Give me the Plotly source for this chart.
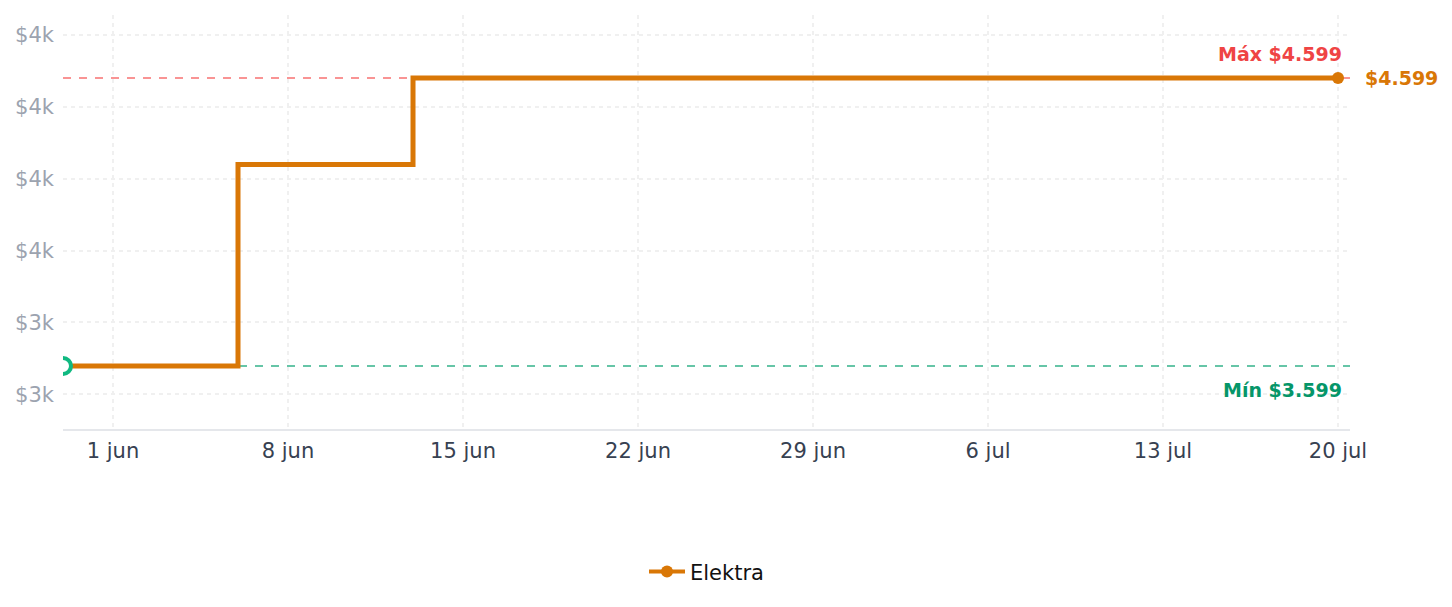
import plotly.graph_objects as go

# Data
dates = ["2025-05-30", "2025-06-06", "2025-06-13", "2025-07-20"]
prices = [3599, 4299, 4599, 4599]
series_name = "Elektra"
max_price = 4599
min_price = 3599
max_label = "Máx $4.599"
min_label = "Mín $3.599"
last_label = "$4.599"

y_tickvals = [3500, 3750, 4000, 4250, 4500, 4750]
y_ticktext = ["$3k", "$3k", "$4k", "$4k", "$4k", "$4k"]
x_tickvals = ["2025-06-01", "2025-06-08", "2025-06-15", "2025-06-22",
              "2025-06-29", "2025-07-06", "2025-07-13", "2025-07-20"]
x_ticktext = ["1 jun", "8 jun", "15 jun", "22 jun", "29 jun", "6 jul", "13 jul", "20 jul"]

ORANGE = "#d97706"
RED = "#ef4444"
GREEN = "#059669"

fig = go.Figure()

fig.add_trace(go.Scatter(
    x=dates, y=prices, mode="lines", line=dict(color=ORANGE, width=5, shape="hv"),
    name=series_name, showlegend=False, hoverinfo="skip"))

# start marker (hollow, green)
fig.add_trace(go.Scatter(
    x=[dates[0]], y=[prices[0]], mode="markers",
    marker=dict(size=16, color="white", line=dict(color="#10b981", width=4)),
    showlegend=False, hoverinfo="skip"))

# end marker
fig.add_trace(go.Scatter(
    x=[dates[-1]], y=[prices[-1]], mode="markers",
    marker=dict(size=12, color=ORANGE),
    showlegend=False, hoverinfo="skip"))

# legend entry
fig.add_trace(go.Scatter(
    x=[None], y=[None], mode="lines+markers", name=series_name,
    line=dict(color=ORANGE, width=4), marker=dict(size=12, color=ORANGE)))

fig.add_shape(type="line", xref="paper", x0=0, x1=1, yref="y", y0=max_price, y1=max_price,
              line=dict(color="#f87171", width=1.6, dash="8px,8px"), layer="below")
fig.add_shape(type="line", xref="paper", x0=0, x1=1, yref="y", y0=min_price, y1=min_price,
              line=dict(color="#34b38a", width=1.6, dash="8px,8px"), layer="below")

fig.add_annotation(xref="paper", x=0.9953, yref="y", y=max_price, text=max_label,
                   showarrow=False, xanchor="right", yanchor="bottom", yshift=11,
                   font=dict(color=RED, size=19, family="DejaVu Sans", weight="bold"))
fig.add_annotation(xref="paper", x=0.9953, yref="y", y=min_price, text=min_label,
                   showarrow=False, xanchor="right", yanchor="top", yshift=-11,
                   font=dict(color=GREEN, size=19, family="DejaVu Sans", weight="bold"))
fig.add_annotation(xref="x", x=dates[-1], yref="y", y=prices[-1], text=last_label,
                   showarrow=False, xanchor="left", yanchor="middle", xshift=25,
                   font=dict(color=ORANGE, size=19, family="DejaVu Sans", weight="bold"))

fig.update_layout(
    width=1452, height=607, autosize=False,
    margin=dict(l=63, r=102, t=15, b=178),
    paper_bgcolor="white", plot_bgcolor="white",
    font=dict(family="DejaVu Sans", size=21, color="#374151"),
    showlegend=True,
    legend=dict(orientation="h", x=0.5, xanchor="center", y=-0.345, yanchor="middle",
                itemwidth=36, font=dict(size=21, color="#111111")),
    xaxis=dict(range=["2025-05-30", "2025-07-20 11:30"], tickvals=x_tickvals, ticktext=x_ticktext,
               showgrid=True, gridcolor="#f0f0f0", gridwidth=1.5, griddash="4px,4px",
               showline=True, linecolor="#e5e7eb", linewidth=1.5, zeroline=False,
               ticks="", ticklabelstandoff=2, tickfont=dict(size=21, color="#374151")),
    yaxis=dict(range=[3380, 4818], tickvals=y_tickvals, ticktext=y_ticktext,
               showgrid=True, gridcolor="#f0f0f0", gridwidth=1.5, griddash="4px,4px",
               showline=False, zeroline=False, ticks="", ticklabelstandoff=8,
               tickfont=dict(size=21, color="#9ca3af")),
)

fig.write_html("out.html")
